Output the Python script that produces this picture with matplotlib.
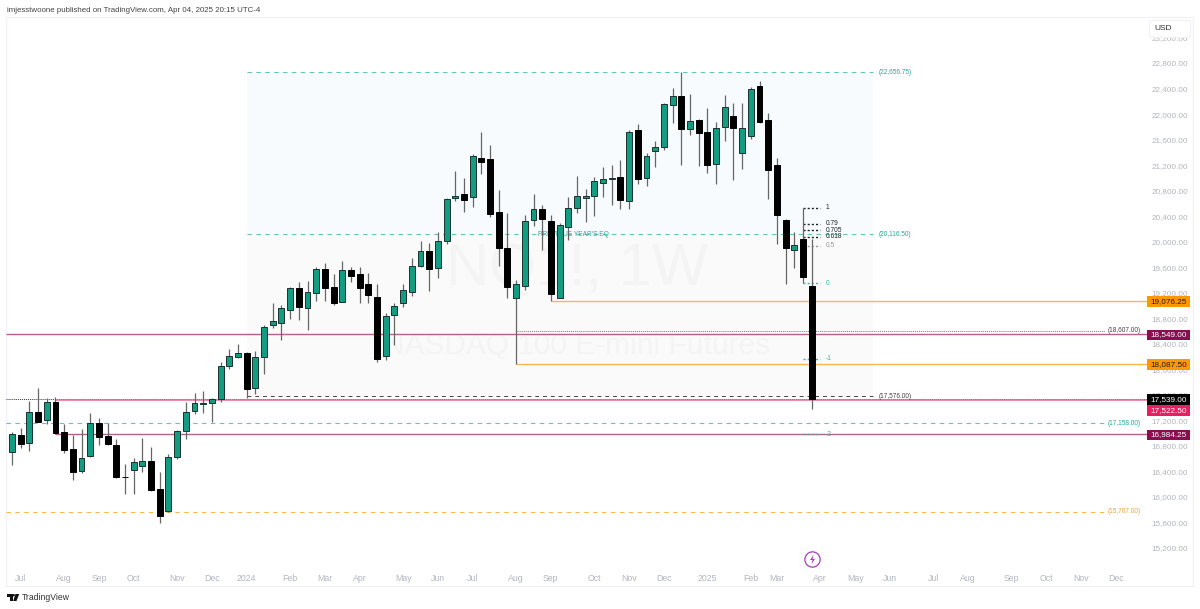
import matplotlib
matplotlib.use("Agg")
import matplotlib.pyplot as plt
from matplotlib.patches import Rectangle, Circle, Polygon, FancyBboxPatch
from matplotlib.transforms import Affine2D, blended_transform_factory

plt.rcParams['font.family'] = ['Liberation Sans', 'DejaVu Sans']

# weekly candles, one value per bar
opens = [16700, 16971, 16845, 17336, 17206, 17488, 17018, 16751, 16402, 16641,
         17159, 16955, 16818, 16318, 16417, 16489, 16563, 16124, 15775, 16631,
         17029, 17342, 17450, 17467, 17539, 18056, 18197, 18251, 17702, 18197,
         18699, 18730, 18925, 19269, 18956, 19191, 19567, 19285, 19059, 19551,
         19489, 19337, 19138, 18213, 18851, 19034, 19216, 19619, 19854, 19583,
         20015, 20680, 20742, 20700, 21316, 21300, 20470, 19896, 19122, 19310,
         20344, 20512, 20329, 19122, 20225, 20532, 20689, 20711, 20924, 20987,
         21018, 20633, 21745, 20998, 21426, 21484, 22146, 22278, 21761, 21907,
         21723, 21222, 21792, 21969, 21394, 21656, 22435, 21902, 21201, 20340,
         19869, 20042, 19305]
highs = [17022, 17076, 17503, 17702, 17546, 17561, 17143, 16971, 17060, 17311,
         17232, 17163, 16903, 16511, 16605, 16919, 16787, 16395, 16668, 17054,
         17492, 17624, 17660, 17555, 18119, 18313, 18397, 18266, 18292, 18699,
         19034, 19003, 19294, 19363, 19379, 19598, 19666, 19493, 19697, 19608,
         19598, 19509, 19337, 18882, 19039, 19337, 19749, 20015, 19974, 20147,
         20680, 21103, 20998, 21369, 21714, 21520, 20810, 20445, 19399, 20413,
         20752, 20575, 20413, 20297, 20700, 21029, 20821, 21009, 21170, 21201,
         21284, 21755, 21839, 21394, 21573, 22178, 22403, 22657, 22314, 21927,
         22095, 21880, 22294, 22173, 22173, 22419, 22518, 22012, 21316, 20351,
         20156, 20532, 20037]
lows = [16500, 16762, 16720, 17170, 17143, 16982, 16693, 16261, 16370, 16631,
        16809, 16814, 16292, 16041, 16041, 16395, 16098, 15592, 15759, 16599,
        16913, 17295, 17311, 17170, 17492, 18005, 18177, 17555, 17608, 17926,
        18647, 18459, 18788, 18777, 18616, 19066, 19075, 19008, 19050, 19373,
        19044, 19044, 18114, 18146, 18376, 18972, 19153, 19600, 19232, 19426,
        19968, 20633, 20460, 20543, 21065, 20387, 19619, 19117, 18087, 19247,
        20250, 19869, 19076, 19110, 20026, 20445, 20313, 20398, 20705, 20579,
        20507, 20512, 20908, 20877, 21175, 21441, 21855, 21206, 21676, 21186,
        21071, 20899, 21573, 20962, 21143, 21614, 21855, 20664, 19964, 19337,
        19592, 19348, 17378]
closes = [16982, 16825, 17336, 17179, 17488, 16997, 16740, 16395, 16615, 17159,
          16939, 16834, 16308, 16312, 16552, 16563, 16109, 15706, 16631, 17038,
          17336, 17467, 17467, 17535, 18052, 18204, 18260, 17696, 18193, 18668,
          18762, 18965, 19269, 18976, 19216, 19567, 19269, 19044, 19561, 19457,
          19279, 19160, 18166, 18831, 18987, 19243, 19619, 19854, 19576, 20015,
          20664, 20711, 20658, 21342, 21253, 20438, 19901, 19285, 19341, 20324,
          20512, 20351, 19180, 20257, 20523, 20716, 20720, 20946, 20977, 20998,
          20648, 21723, 20982, 21342, 21488, 22153, 22287, 21761, 21896, 21708,
          21206, 21781, 22106, 21781, 21786, 22392, 21871, 21118, 20418, 19906,
          19953, 19442, 17539]

# time axis: bar index of each month label
month_bars = [1, 6, 10, 14, 19, 23, 27, 32, 36, 40, 45, 49, 53, 58, 62, 67, 71, 75,
              80, 85, 88, 93, 97, 101, 106, 110, 115, 119, 123, 127]
month_names = ['Jul', 'Aug', 'Sep', 'Oct', 'Nov', 'Dec', '2024', 'Feb', 'Mar', 'Apr',
               'May', 'Jun', 'Jul', 'Aug', 'Sep', 'Oct', 'Nov', 'Dec', '2025', 'Feb',
               'Mar', 'Apr', 'May', 'Jun', 'Jul', 'Aug', 'Sep', 'Oct', 'Nov', 'Dec']
price_ticks = list(range(15200, 23201, 400))

# previous year's range
year_high = 22656.75
year_eq = 20116.50
year_low = 17576.00
range_start = 27
range_end = 99

# fib tool on the last two bars
fib_names = ['1', '0.79', '0.705', '0.618', '0.5', '0', '-1', '-2']
fib_prices = [20532, 20280, 20180, 20075, 19935, 19348, 18164, 16985]
fib_colors = ['#222222', '#222222', '#222222', '#222222', '#999999', '#3fb5a3', '#3fb5a3', '#5f9f9a']

bg_pale_blue = '#f8fbfe'
bg_pale_grey = '#fafafa'
teal = '#139c82'
teal_line = '#62c6b5'
maroon = '#880e4f'
maroon_line = '#b5608f'
pink = '#e91e63'
orange = '#ff9800'
orange_line = '#ffb74d'
grey_text = '#b2b5be'

fig = plt.figure(figsize=(12, 6.09), dpi=100, facecolor='white')
px = Affine2D().scale(1 / 1200, -1 / 609).translate(0, 1) + fig.transFigure

# outer frame and the header / footer text
fig.add_artist(Rectangle((6, 17), 1187, 569, transform=px, fc='white', ec='#eef0f5', lw=0.8, zorder=-5))
fig.text(7 / 1200, 1 - 10 / 609, 'imjesstwoone published on TradingView.com, Apr 04, 2025 20:15 UTC-4',
         fontsize=5.65, color='#444444', va='center')
fig.text(22 / 1200, 1 - 597 / 609, 'TradingView', fontsize=6.2, color='#333333', va='center')
fig.add_artist(Polygon([(7, 594), (12.5, 594), (12.5, 601), (9.5, 601), (9.5, 596.5), (7, 596.5)],
                       transform=px, fc='#111111', ec='none'))
fig.add_artist(Circle((13.7, 595.2), 1.2, transform=px, fc='#111111', ec='none'))
fig.add_artist(Polygon([(15.5, 594), (19.2, 594), (16.5, 601), (13.2, 601)], transform=px, fc='#111111', ec='none'))

ax = fig.add_axes([6 / 1200, 1 - 568 / 609, 1141 / 1200, 551 / 609])
ax.patch.set_alpha(0)
ax.set_xlim(-0.69, 130.58)
ax.set_ylim(14887, 23521)
for side in ax.spines.values():
    side.set_visible(False)

# range box
ax.add_patch(Rectangle((range_start, year_eq), range_end - range_start, year_high - year_eq,
                       fc=bg_pale_blue, ec='none', zorder=1))
ax.add_patch(Rectangle((range_start, year_low), range_end - range_start, year_eq - year_low,
                       fc=bg_pale_grey, ec='none', zorder=1))
ax.hlines([year_high, year_eq], range_start, range_end, color=teal_line, lw=0.8, linestyle=(0, (4, 4)), zorder=2)
ax.hlines(year_low, range_start, range_end, color='#444444', lw=0.7, linestyle=(0, (4, 4)), zorder=2)
ax.text(99.7, year_high, '(22,656.75)', fontsize=4.7, color='#26a69a', va='center')
ax.text(99.7, year_eq, '(20,116.50)', fontsize=4.7, color='#26a69a', va='center')
ax.text(99.7, year_low, '(17,576.00)', fontsize=4.7, color='#444444', va='center')
ax.text(60.5, year_eq, "PREVIOUS YEAR'S EQ", fontsize=4.8, color='#26a69a', va='center', zorder=2.5)

# watermark
ax.text(65, 19560, 'NQ1!, 1W', fontsize=43, color='#f4f4f4', ha='center', va='center', zorder=1.5)
ax.text(65, 18360, 'NASDAQ 100 E-mini Futures', fontsize=21.5, color='#f4f4f4', ha='center', va='center', zorder=1.5)

# horizontal levels
right_end = 130.58
ax.hlines(17539, -0.69, right_end, color='#333333', lw=0.7, linestyle=(0, (1, 1)), zorder=2)
ax.hlines(17522.5, 5, right_end, color='#ec6a97', lw=1.1, zorder=2.2)
ax.hlines(18549, -0.69, right_end, color=maroon_line, lw=1.0, zorder=2)
ax.hlines(16984.25, 5, right_end, color=maroon_line, lw=1.0, zorder=2)
ax.hlines(19076.25, 62, right_end, color=orange_line, lw=1.0, zorder=2)
ax.hlines(18087.5, 58, right_end, color=orange_line, lw=1.0, zorder=2)
ax.hlines(18607, 58, 125.7, color='#777777', lw=0.7, linestyle=(0, (1, 1)), zorder=2)
ax.hlines(17158, -0.69, 125.7, color=teal_line, lw=0.8, linestyle=(0, (4, 4)), zorder=2)
ax.hlines(15767, -0.69, 125.7, color='#ffb74d', lw=0.8, linestyle=(0, (4, 4)), zorder=2)
ax.text(126, 18607, '(18,607.00)', fontsize=4.7, color='#444444', va='center')
ax.text(126, 17158, '(17,158.00)', fontsize=4.7, color='#26a69a', va='center')
ax.text(126, 15767, '(15,767.00)', fontsize=4.7, color='#e8a33d', va='center')

# fib segments and labels
for name, level, col in zip(fib_names, fib_prices, fib_colors):
    ax.hlines(level, 91, 93, color=col, lw=1.0, linestyle=(0, (1.5, 1.5)), zorder=2.5)
    ax.text(93.6, level, name, fontsize=4.8, color=col, va='center')

# candles: wicks first, then bodies on top
bars = list(range(len(opens)))
body_bottom = [min(o, c) for o, c in zip(opens, closes)]
body_height = [abs(c - o) for o, c in zip(opens, closes)]
body_color = [teal if c >= o else '#000000' for o, c in zip(opens, closes)]
body_edge = ['#17332e' if c >= o else '#000000' for o, c in zip(opens, closes)]
ax.vlines(bars, lows, highs, color='#666666', lw=0.9, zorder=3)
ax.bar(bars, body_height, bottom=body_bottom, width=0.68, color=body_color, edgecolor=body_edge, lw=0.7, zorder=3.5)

# event marker under the last bar
ax.plot([92], [15027], marker='o', ms=11, mfc='white', mec='#a23fb5', mew=0.9, zorder=4)
bolt = [(0.2, 1), (-0.5, -0.1), (0, -0.1), (-0.2, -1), (0.5, 0.15), (0, 0.15)]
ax.plot([92], [15027], marker=bolt, ms=7, mfc='#a23fb5', mec='none', zorder=4.1)

# axes ticks
ax.yaxis.tick_right()
ax.set_yticks(price_ticks)
ax.set_yticklabels([f'{t:,.2f}' for t in price_ticks], fontsize=5.9, color=grey_text)
ax.tick_params(axis='y', length=0, pad=3.5)
ax.set_xticks(month_bars)
ax.set_xticklabels(month_names, fontsize=6.3, color=grey_text)
ax.tick_params(axis='x', length=0, pad=4.5)

# price tags on the right axis, the pink one sits below the black one
trans = blended_transform_factory(ax.transAxes, ax.transData)
tag_prices = [19076.25, 18549.00, 18087.50, 17539.00, 17522.50, 16984.25]
tag_fill = [orange, maroon, orange, '#000000', pink, maroon]
tag_text = ['#1a1a1a', 'white', '#1a1a1a', 'white', 'white', 'white']
tag_drop = [10, 10, 10, 12, 168, 10]
tag_width = 43 / 1141
tag_height = 165
for level, fill, col, drop in zip(tag_prices, tag_fill, tag_text, tag_drop):
    mid = level - drop
    ax.add_patch(Rectangle((1.0, mid - tag_height / 2), tag_width, tag_height, transform=trans,
                           fc=fill, ec='none', clip_on=False, zorder=6))
    ax.text(1.0 + tag_width / 2, mid, f'{level:,.2f}', transform=trans, fontsize=5.9, color=col,
            ha='center', va='center', zorder=7, clip_on=False)

# currency box covers the top tick
fig.add_artist(FancyBboxPatch((1151, 22), 38, 14, boxstyle='round,pad=1.5,rounding_size=2', transform=px,
                              fc='white', ec='#eef0f5', lw=0.8, zorder=5))
fig.text(1154 / 1200, 1 - 29 / 609, 'USD', fontsize=6, color='#333333', va='center', zorder=6)

fig.savefig('out.png', dpi=100)
